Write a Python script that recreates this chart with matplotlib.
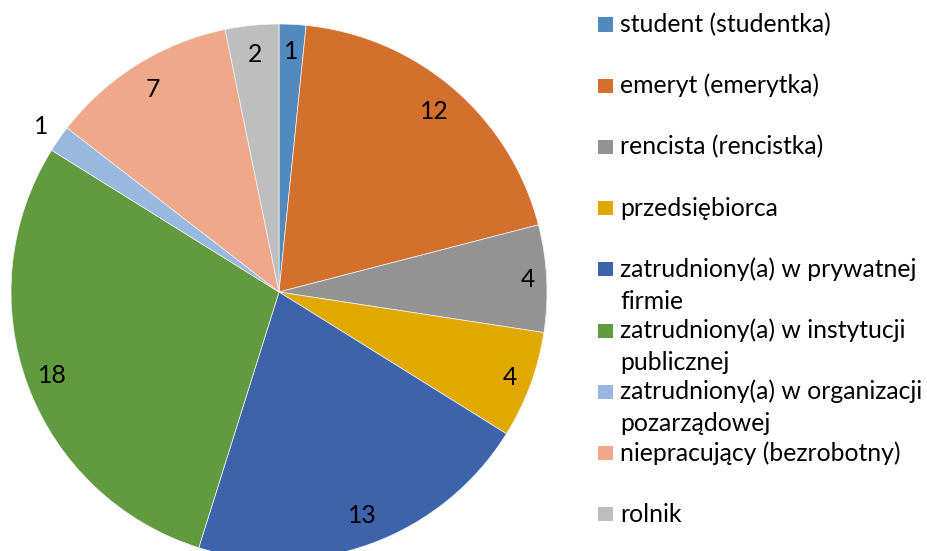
import numpy as np
import matplotlib.pyplot as plt
from matplotlib.patches import Rectangle

categories = [
    'student (studentka)',
    'emeryt (emerytka)',
    'rencista (rencistka)',
    'przedsiębiorca',
    'zatrudniony(a) w prywatnej\nfirmie',
    'zatrudniony(a) w instytucji\npublicznej',
    'zatrudniony(a) w organizacji\npozarządowej',
    'niepracujący (bezrobotny)',
    'rolnik',
]
counts = [1, 12, 4, 4, 13, 18, 1, 7, 2]
colors = ['#538ABD', '#D4702D', '#939393', '#E1A900',
          '#3D64AB', '#629A3F', '#98B8E0', '#F0A88A', '#BEBEBE']
# radial position of each value label (fraction of radius)
label_r = [0.90, 0.89, 0.93, 0.92, 0.89, 0.90, 1.08, 0.89, 0.89]

plt.rcParams['font.family'] = ['Lato', 'DejaVu Sans']
FS = 17.8

W, H = 927, 551
fig = plt.figure(figsize=(W / 100, H / 100), dpi=100)

cx, cy, R = 279, 292, 268
ax = fig.add_axes([(cx - R) / W, (H - cy - R) / H, 2 * R / W, 2 * R / H])
wedges, _ = ax.pie(counts, colors=colors, startangle=90, counterclock=False,
                   radius=1.0, wedgeprops=dict(edgecolor='#F4F4F4', linewidth=0.5))
ax.set_xlim(-1, 1)
ax.set_ylim(-1, 1)
ax.set_aspect('equal')
ax.axis('off')

for w, v, r in zip(wedges, counts, label_r):
    ang = np.deg2rad((w.theta1 + w.theta2) / 2)
    ax.text(r * np.cos(ang), r * np.sin(ang), str(v), ha='center', va='center',
            fontsize=FS, color='black', clip_on=False)

# legend, drawn by hand so wrapped entries keep the fixed row pitch
y0, step, line_h = 24.5, 61.2, 32
for i, (lab, c) in enumerate(zip(categories, colors)):
    y = y0 + i * step
    fig.patches.append(Rectangle((598 / W, 1 - (y + 7) / H), 15 / W, 14 / H,
                                 transform=fig.transFigure, facecolor=c,
                                 edgecolor='none'))
    for j, line in enumerate(lab.split('\n')):
        fig.text(620 / W, 1 - (y + j * line_h) / H, line, ha='left',
                 va='center', fontsize=FS, color='black')

fig.savefig('out.png', dpi=100, facecolor='white')
